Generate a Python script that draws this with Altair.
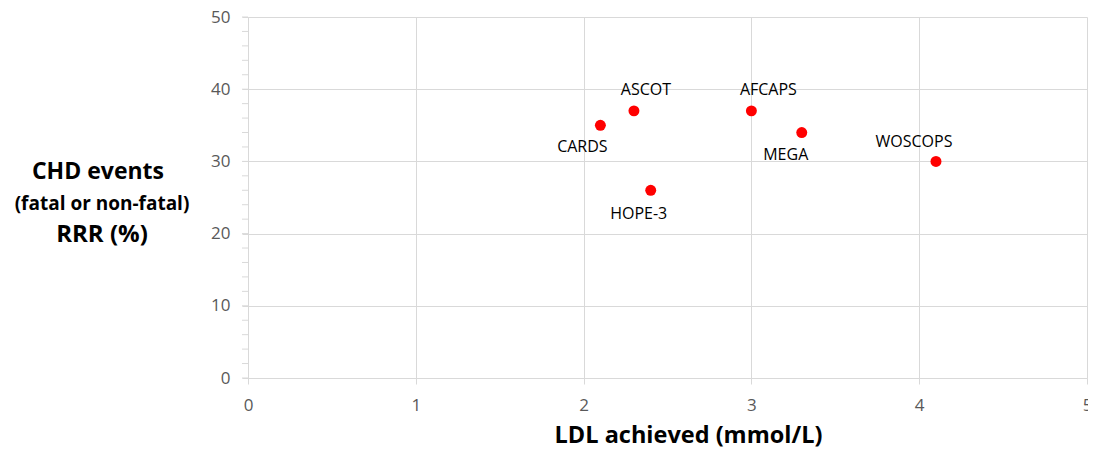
import altair as alt
import pandas as pd

trials = ["CARDS", "ASCOT", "HOPE-3", "AFCAPS", "MEGA", "WOSCOPS"]
ldl = [2.1, 2.3, 2.4, 3.0, 3.3, 4.1]
rrr = [35, 37, 26, 37, 34, 30]
minor_ticks = list(range(0, 52, 2))
x_ticks = [0, 1, 2, 3, 4, 5]
y_ticks = [0, 10, 20, 30, 40, 50]

df = pd.DataFrame({"trial": trials, "ldl": ldl, "rrr": rrr})
ticks_df = pd.DataFrame({"v": minor_ticks})

# label offsets (px) relative to each point
offsets = {
    "CARDS": (-18, 22),
    "ASCOT": (12, -21),
    "HOPE-3": (-12, 24),
    "AFCAPS": (17, -21),
    "MEGA": (-16, 22),
    "WOSCOPS": (-22, -19),
}

FONT = "Open Sans"
GRID = "#d9d9d9"
xscale = alt.Scale(domain=[0, 5], nice=False)
yscale = alt.Scale(domain=[0, 50], nice=False)

base = alt.Chart(df)

points = base.mark_circle(size=120, color="#ff0000", opacity=1).encode(
    x=alt.X("ldl:Q", scale=xscale,
            axis=alt.Axis(title="LDL achieved (mmol/L)", values=x_ticks, format="d",
                          labelFlush=False, labelOverlap=False,
                          labelFont=FONT, labelFontSize=17, labelColor="#595959",
                          labelPadding=13, tickSize=6, tickColor=GRID,
                          domainColor=GRID, gridColor=GRID,
                          titleFont=FONT, titleFontSize=23.5, titleFontWeight="bold",
                          titleColor="#000000", titlePadding=10, titleX=440)),
    y=alt.Y("rrr:Q", scale=yscale,
            axis=alt.Axis(title=None, values=y_ticks, format="d",
                          labelFlush=False,
                          labelFont=FONT, labelFontSize=17, labelColor="#595959",
                          labelPadding=12, tickSize=6, tickColor=GRID,
                          domainColor=GRID, gridColor=GRID)),
)

labels = []
for name, (dx, dy) in offsets.items():
    labels.append(
        base.transform_filter(alt.datum.trial == name)
        .mark_text(font=FONT, fontSize=16, color="#000000", dx=dx, dy=dy)
        .encode(x=alt.X("ldl:Q", scale=xscale), y=alt.Y("rrr:Q", scale=yscale),
                text="trial:N")
    )

minor = alt.Chart(ticks_df).mark_rule(color=GRID, strokeWidth=1).encode(
    y=alt.Y("v:Q", scale=yscale), x=alt.value(-6), x2=alt.value(0)
)

title_lines = [
    ("CHD events", 23, -150, 155),
    ("(fatal or non-fatal)", 19, -146, 187),
    ("RRR (%)", 24, -146, 218),
]
titles = []
for txt, fs, tx, ty in title_lines:
    titles.append(
        alt.Chart(pd.DataFrame({"t": [txt]})).mark_text(
            font=FONT, fontSize=fs, fontWeight="bold", color="#000000",
            align="center", baseline="middle"
        ).encode(text="t:N", x=alt.value(tx), y=alt.value(ty))
    )

chart = alt.layer(minor, points, *labels, *titles).properties(
    width=839, height=361,
    padding={"left": 240, "top": 9, "right": 1, "bottom": 76},
    autosize="none",
).configure_view(stroke=None).configure_axis(grid=True)

chart.save("out.html", embed_options={"renderer": "svg", "actions": False})
